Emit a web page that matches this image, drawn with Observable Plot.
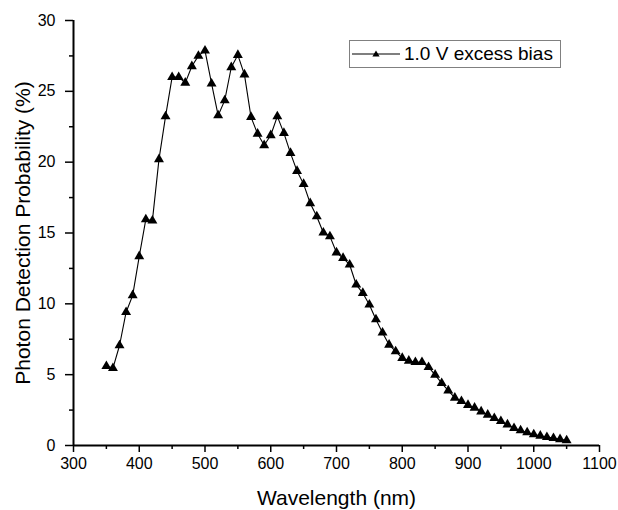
<!DOCTYPE html>
<html>
<head>
<meta charset="utf-8">
<script src="https://cdn.jsdelivr.net/npm/d3@7"></script>
<script src="https://cdn.jsdelivr.net/npm/@observablehq/plot@0.6"></script>
<style>
  html, body { margin: 0; padding: 0; background: #fff; }
  #wrap { position: relative; width: 618px; height: 510px; font-family: "Liberation Sans", Arial, sans-serif; }
  #legend { position: absolute; left: 349px; top: 40px; width: 212px; height: 28px; border: 1px solid #808080; background: #fff;
            display: flex; align-items: center; font-size: 19px; color: #000; box-sizing: border-box; white-space: nowrap; }
  #legend svg { margin-left: 2px; margin-right: 4px; flex: none; }
</style>
</head>
<body>
<div id="wrap"></div>
<script>
const wavelength = [350,360,370,380,390,400,410,420,430,440,450,460,470,480,490,500,510,520,530,540,550,560,570,580,590,600,610,620,630,640,650,660,670,680,690,700,710,720,730,740,750,760,770,780,790,800,810,820,830,840,850,860,870,880,890,900,910,920,930,940,950,960,970,980,990,1000,1010,1020,1030,1040,1050];
const pdp = [5.6,5.46,7.06,9.41,10.6,13.35,15.96,15.87,20.2,23.23,26.0,26.0,25.6,26.77,27.5,27.87,25.54,23.3,24.36,26.7,27.56,26.18,23.18,22.0,21.19,21.9,23.23,22.05,20.64,19.37,18.45,17.1,16.17,15.02,14.76,13.62,13.23,12.76,11.35,10.76,9.94,8.9,7.96,7.11,6.64,6.17,5.98,5.88,5.88,5.53,4.99,4.4,3.88,3.37,3.13,2.85,2.66,2.4,2.17,1.93,1.72,1.48,1.22,1.06,0.92,0.78,0.68,0.59,0.52,0.44,0.36];
const seriesName = "1.0 V excess bias";
const xMajor = [300,400,500,600,700,800,900,1000,1100];
const xMinor = [350,450,550,650,750,850,950,1050];
const yMajor = [0,5,10,15,20,25,30];
const yMinor = [2.5,7.5,12.5,17.5,22.5,27.5];
const xTitle = "Wavelength (nm)";
const yTitle = "Photon Detection Probability (%)";

const data = wavelength.map((w, i) => ({w, p: pdp[i]}));
const fmt = d3.format("d");
const xDom = [xMajor[0], xMajor[xMajor.length - 1]];
const yDom = [yMajor[0], yMajor[yMajor.length - 1]];

const chart = Plot.plot({
  width: 618,
  height: 510,
  marginLeft: 73,
  marginRight: 19,
  marginTop: 20,
  marginBottom: 65,
  style: {fontFamily: "'Liberation Sans', Arial, sans-serif", fontSize: "16px", color: "#000", background: "#fff", overflow: "visible"},
  x: {domain: xDom},
  y: {domain: yDom},
  marks: [
    Plot.axisX({ticks: xMajor, tickSize: 7, tickPadding: 5, fontSize: 16, tickFormat: fmt, label: null, strokeWidth: 1.5}),
    Plot.axisX({ticks: xMinor, tickSize: 4, tickFormat: () => "", label: null, strokeWidth: 1.5}),
    Plot.axisY({ticks: yMajor, tickSize: 8, tickPadding: 10, fontSize: 16, tickFormat: fmt, label: null, strokeWidth: 1.5}),
    Plot.axisY({ticks: yMinor, tickSize: 4, tickFormat: () => "", label: null, strokeWidth: 1.5}),
    Plot.ruleY([yDom[0]], {x1: xDom[0], x2: xDom[1], stroke: "black", strokeWidth: 2, strokeOpacity: 1}),
    Plot.ruleX([xDom[0]], {y1: yDom[0], y2: yDom[1], stroke: "black", strokeWidth: 2, strokeOpacity: 1}),
    Plot.line(data, {x: "w", y: "p", stroke: "#000", strokeWidth: 1.1}),
    Plot.dot(data, {x: "w", y: "p", symbol: "triangle", fill: "#000", r: 3.7}),
    Plot.text([xTitle], {frameAnchor: "bottom", lineAnchor: "middle", dy: 53, fontSize: 21, fill: "#000"}),
    Plot.text([yTitle], {frameAnchor: "left", textAnchor: "middle", lineAnchor: "middle", dx: -50, rotate: -90, fontSize: 21, fill: "#000"})
  ]
});

const wrap = document.getElementById("wrap");
wrap.appendChild(chart);

const legend = document.createElement("div");
legend.id = "legend";
legend.innerHTML = `<svg width="48" height="12"><line x1="0" y1="6" x2="48" y2="6" stroke="#000" stroke-width="1.1"/><path d="M24,2.6 L27.6,8.6 L20.4,8.6 Z" fill="#000"/></svg><span>${seriesName}</span>`;
wrap.appendChild(legend);
</script>
</body>
</html>
